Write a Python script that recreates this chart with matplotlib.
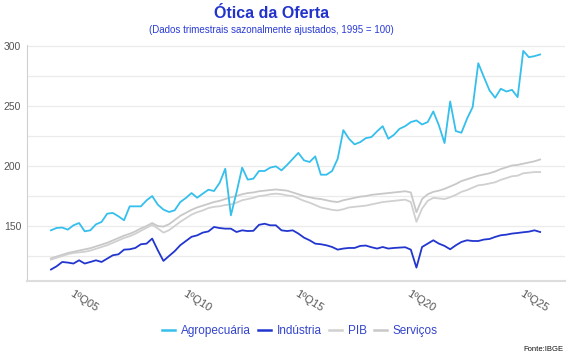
import numpy as np
import matplotlib
matplotlib.use('Agg')
import matplotlib.pyplot as plt
from matplotlib.ticker import MultipleLocator

plt.rcParams['font.family'] = ['Liberation Sans', 'DejaVu Sans']

# quarters 2004Q1 .. 2025Q4
quarters = [f"{q}ºQ{y % 100:02d}" for y in range(2004, 2026) for q in range(1, 5)]

agropecuaria = [
    146.4, 148.4, 148.7, 147.0, 150.6, 152.5, 145.6, 146.4, 151.4, 153.4,
    160.3, 160.9, 158.1, 154.8, 166.4, 166.4, 166.4, 171.4, 175.0, 167.8,
    163.7, 161.7, 163.1, 170.0, 173.4, 177.5, 173.6, 177.0, 180.3, 179.2,
    186.0, 197.8, 158.9, 178.0, 198.7, 188.7, 189.5, 195.9, 195.9, 198.7,
    199.8, 196.4, 201.0, 206.0, 211.0, 204.8, 203.4, 208.1, 192.8, 192.8,
    195.9, 206.2, 230.0, 222.8, 218.1, 220.0, 223.3, 224.2, 229.0, 233.3,
    222.8, 226.1, 231.1, 233.3, 236.7, 238.1, 234.7, 236.7, 245.6, 233.9,
    219.2, 253.9, 229.2, 227.8, 239.5, 249.2, 285.8, 274.2, 263.1, 257.0,
    264.5, 262.2, 263.6, 257.5, 296.1, 290.8, 291.7, 293.1,
]
industria = [
    113.7, 116.4, 120.0, 119.5, 118.7, 121.4, 118.7, 120.0, 121.4, 120.0,
    122.8, 125.6, 126.4, 130.3, 130.6, 131.7, 134.8, 135.3, 139.5, 129.8,
    120.9, 125.0, 129.0, 134.0, 137.5, 141.0, 142.2, 144.5, 145.5, 149.2,
    148.3, 147.8, 147.8, 145.0, 146.4, 145.8, 146.0, 151.0, 151.9, 150.6,
    150.6, 146.4, 145.8, 146.4, 143.7, 140.3, 138.1, 135.3, 134.8, 133.9,
    132.5, 130.3, 131.2, 131.7, 131.7, 133.4, 133.7, 132.3, 131.2, 132.5,
    131.2, 131.7, 132.0, 132.3, 130.3, 115.3, 132.5, 135.3, 138.1, 135.3,
    133.4, 130.6, 133.9, 136.7, 138.1, 137.5, 137.5, 138.7, 139.2, 140.9,
    142.3, 142.8, 143.7, 144.2, 144.8, 145.3, 146.4, 145.0,
]
pib = [
    122.0, 123.5, 125.0, 126.5, 127.5, 128.0, 128.5, 129.5, 131.0, 132.5,
    134.0, 136.0, 138.0, 140.0, 141.5, 143.5, 146.0, 148.5, 151.0, 148.0,
    144.5, 146.5, 150.0, 153.5, 156.5, 159.5, 161.5, 163.0, 165.0, 166.0,
    166.5, 167.5, 168.0, 169.5, 171.5, 172.5, 173.5, 175.0, 175.5, 176.5,
    177.0, 176.5, 175.5, 175.0, 173.0, 171.0, 169.5, 167.5, 165.5, 164.5,
    163.5, 163.0, 164.0, 165.5, 166.0, 166.5, 167.0, 168.0, 169.0, 170.0,
    170.5, 171.0, 171.5, 172.0, 170.0, 153.5, 164.5, 171.0, 173.5, 173.0,
    172.5, 174.0, 176.0, 178.5, 180.0, 182.0, 184.0, 184.5, 185.5, 186.5,
    188.5, 190.0, 191.5, 192.0, 194.0, 194.5, 195.0, 195.0,
]
servicos = [
    123.0, 124.5, 126.0, 127.5, 128.5, 129.5, 130.5, 131.5, 133.0, 134.5,
    136.0, 138.0, 140.0, 142.0, 143.5, 145.5, 148.0, 150.0, 152.5, 150.0,
    149.5, 151.5, 155.0, 158.5, 161.0, 163.5, 165.5, 167.0, 168.5, 170.0,
    171.0, 172.5, 174.0, 175.0, 176.5, 177.5, 178.0, 179.0, 179.5, 180.0,
    180.5, 180.0, 179.5, 178.0, 176.5, 175.0, 174.0, 173.0, 172.5, 171.5,
    170.5, 170.0, 171.5, 172.5, 173.5, 174.5, 175.0, 176.0, 176.5, 177.0,
    177.5, 178.0, 178.5, 179.0, 178.0, 161.5, 172.5, 176.5, 178.5, 179.5,
    181.0, 183.0, 185.0, 187.5, 189.0, 190.5, 192.0, 193.0, 194.0, 195.5,
    197.5, 199.0, 200.5, 201.0, 202.0, 203.0, 204.0, 205.5,
]

series = [
    ('Agropecuária', agropecuaria, '#35bfec'),
    ('Indústria', industria, '#2236cf'),
    ('PIB', pib, '#d0d0d0'),
    ('Serviços', servicos, '#c8c8c8'),
]

fig = plt.figure(figsize=(5.7, 3.6), dpi=100)
ax = fig.add_axes([0.047, 0.219, 0.944, 0.656])

x = np.arange(len(quarters))
# grays first so the blues sit on top
for name, vals, color in [series[3], series[2], series[0], series[1]]:
    ax.plot(x, vals, color=color, lw=1.3, label=name, solid_joinstyle='round')

ax.set_xlim(-4.3, len(quarters) - 1 + 4.4)
ax.set_ylim(104, 301)

ax.yaxis.set_major_locator(MultipleLocator(50))
ax.yaxis.set_minor_locator(MultipleLocator(25))
ax.grid(True, which='both', axis='y', color='#ebebeb', lw=0.9)
ax.set_axisbelow(True)

tick_idx = [i for i, q in enumerate(quarters) if q.startswith('1º') and int(q[-2:]) % 5 == 0]
ax.set_xticks(tick_idx)
ax.set_xticklabels([quarters[i] for i in tick_idx], rotation=-32, ha='left', va='top',
                   rotation_mode='anchor', fontsize=8, color='#555555')
ax.tick_params(axis='x', length=0, pad=5)
ax.tick_params(axis='y', length=0, pad=4, labelsize=7.5, labelcolor='#555555')
ax.tick_params(axis='y', which='minor', length=0)

for s in ['top', 'right']:
    ax.spines[s].set_visible(False)
ax.spines['left'].set_color('#d0d0d0')
ax.spines['left'].set_linewidth(0.8)
ax.spines['bottom'].set_color('#dddddd')
ax.spines['bottom'].set_linewidth(1.5)

fig.text(0.476, 0.962, 'Ótica da Oferta', ha='center', va='center', fontsize=11.5,
         fontweight='bold', color='#2233cc')
fig.text(0.476, 0.917, '(Dados trimestrais sazonalmente ajustados, 1995 = 100)', ha='center',
         va='center', fontsize=7, color='#2a3bd6')

handles, labels = ax.get_legend_handles_labels()
order = [labels.index(n) for n, _, _ in series]
leg = fig.legend([handles[i] for i in order], [labels[i] for i in order], loc='center',
                 bbox_to_anchor=(0.526, 0.081), ncol=4, frameon=False, fontsize=8.5,
                 handlelength=1.1, handletextpad=0.5, columnspacing=0.6)
for t in leg.get_texts():
    t.set_color('#3344cc')
for h in leg.get_lines():
    h.set_linewidth(1.8)

fig.text(0.988, 0.028, 'Fonte:IBGE', ha='right', va='center', fontsize=5.5, color='#111111')

fig.savefig('out.png', dpi=100)
